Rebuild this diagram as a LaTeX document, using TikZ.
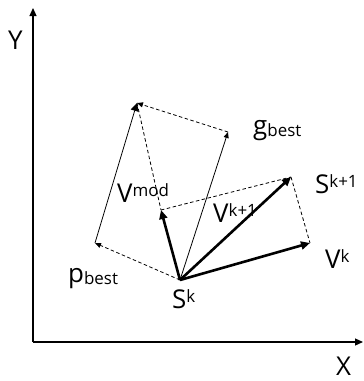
\documentclass[tikz,border=0pt]{standalone}
\usepackage{fontspec}
\setmainfont{Open Sans}
\usetikzlibrary{arrows.meta}
\newcommand\mainsz{\fontsize{26}{26}\selectfont}
\newcommand\scrsz{\fontsize{17}{17}\selectfont}
\newcommand\suplbl[2]{{\mainsz #1}\raisebox{6bp}{\scrsz #2}}
\newcommand\sublbl[2]{{\mainsz #1}\raisebox{-2bp}{\scrsz #2}}
\begin{document}
\begin{tikzpicture}[x=1bp,y=-1bp,
  axisln/.style={line width=1.2bp,-{Triangle[length=8bp,width=7bp]}},
  thinvec/.style={line width=0.8bp,-{Triangle[length=6bp,width=5bp]}},
  bigheadvec/.style={line width=0.8bp,-{Triangle[length=8bp,width=8bp]}},
  thickvec/.style={line width=2.6bp,-{Triangle[length=9bp,width=8bp]}},
  dashln/.style={line width=0.8bp,dash pattern=on 3.5bp off 2.5bp},
  dasharrow/.style={dashln,-{Triangle[length=6bp,width=5bp]}},
  lbl/.style={inner sep=0pt,anchor=base west}]
\useasboundingbox (0,0) rectangle (364,381);
\coordinate (O) at (33,342);
\coordinate (Ytop) at (33,8);
\coordinate (Xend) at (363,342);
\coordinate (S) at (180,280);
\coordinate (P) at (95,243);
\coordinate (M) at (137,103);
\coordinate (G) at (228,132);
\coordinate (W) at (161,210);
\coordinate (N) at (291,177);
\coordinate (K) at (310,243);
% axes
\draw[axisln] (O) -- (Ytop);
\draw[axisln] (O) -- (Xend);
% dashed construction lines
\draw[dasharrow] (S) -- (P);
\draw[dasharrow] (G) -- (M);
\draw[dashln] (M) -- (W);
\draw[dashln] (W) -- (N);
\draw[dashln] (N) -- (K);
% thin vectors
\draw[bigheadvec] (P) -- (M);
\draw[thinvec] (S) -- (G);
% thick vectors
\draw[thickvec] (S) -- (W);
\draw[thickvec] (S) -- (N);
\draw[thickvec] (S) -- (K);
% labels
\node[lbl] (ly) at (8,49) {\mainsz Y};
\node[lbl] (lx) at (336,375) {\mainsz X};
\node[lbl] (lg) at (253,134) {\sublbl{g}{best}};
\node[lbl] (lm) at (117,202) {\suplbl{V}{mod}};
\node[lbl] (lp) at (68,282) {\sublbl{p}{best}};
\node[lbl] (ls) at (172,308) {\suplbl{S}{k}};
\node[lbl] (ln) at (315,193) {\suplbl{S}{k+1}};
\node[lbl] (lk) at (325,268) {\suplbl{V}{k}};
\node[lbl] (lv) at (213,222) {\suplbl{V}{k+1}};
\end{tikzpicture}
\end{document}
